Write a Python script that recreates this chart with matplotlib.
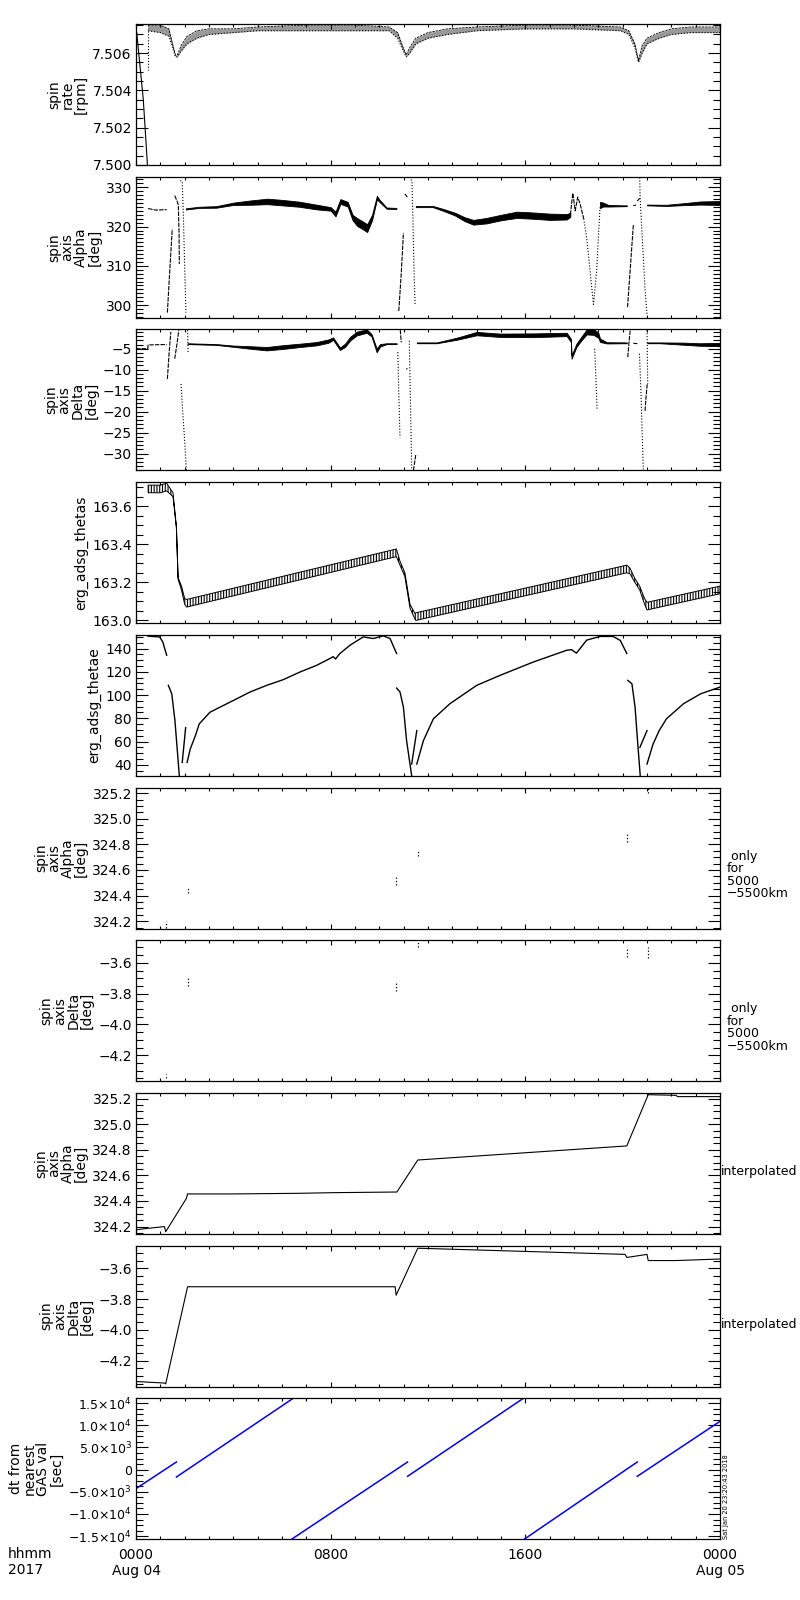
"""Spin-axis summary stack: ten strip panels sharing one 24 h time axis (2017 Aug 04)."""

import numpy as np
import matplotlib
matplotlib.use("Agg")
import matplotlib.pyplot as plt  # noqa: E402
from matplotlib.ticker import MultipleLocator, FixedLocator, FuncFormatter  # noqa: E402

NA = np.nan

# ---- panel 1: spin rate [rpm] -------------------------------------------------
RATE_DROP_T = [0.03, 0.30, 0.47]
RATE_DROP_V = [7.5071, 7.5035, 7.5000]
RATE_GAP_T = [0.49, 0.49]
RATE_GAP_V = [7.5075, 7.5051]
RATE_T = [0.5, 1.0, 1.35, 1.5, 1.62, 1.7, 1.85, 2.1, 2.5, 3.0, 4.0, 5.0, 7.0, 9.0,
          10.4, 10.75, 10.95, 11.1, 11.25, 11.5, 12.0, 12.8, 14.0, 16.0, 18.0,
          19.9, 20.25, 20.5, 20.65, 20.8, 21.0, 21.5, 22.0, 22.8, 24.0]
RATE_LO = [7.5072, 7.5071, 7.5069, 7.5063, 7.5058, 7.5058, 7.5061, 7.5065, 7.5068,
           7.5070, 7.5071, 7.5072, 7.5072, 7.5072, 7.5072, 7.5068, 7.5062, 7.5058,
           7.5060, 7.5065, 7.5068, 7.5070, 7.5072, 7.5073, 7.5073, 7.5072, 7.5070,
           7.5063, 7.5055, 7.5060, 7.5065, 7.5068, 7.5070, 7.5071, 7.5071]
RATE_HI = [7.5075, 7.5075, 7.5073, 7.5065, 7.5059, 7.5059, 7.5064, 7.5069, 7.5072,
           7.5073, 7.5073, 7.5074, 7.5075, 7.5075, 7.5074, 7.5071, 7.5064, 7.5059,
           7.5063, 7.5068, 7.5071, 7.5073, 7.5074, 7.5075, 7.5075, 7.5074, 7.5072,
           7.5065, 7.5056, 7.5064, 7.5068, 7.5071, 7.5073, 7.5074, 7.5074]

# ---- panel 2: spin axis Alpha [deg] --------------------------------------------
ALPHA_LINE_T = [0.5, 0.8, 1.26, NA, 1.29, 1.38, 1.49, NA, 1.59, 1.68, 1.74, 1.77, 1.78,
                NA, 10.8, 10.9, 10.99, NA, 11.05, 11.15, NA, 17.85, 17.95, 18.05, 18.15,
                18.25, 18.4, NA, 20.2, 20.32, 20.44, NA, 20.44, 20.55, NA, 20.6, 20.7]
ALPHA_LINE_V = [324.6, 324.2, 324.3, NA, 298.1, 308.0, 319.4, NA, 327.9, 326.6, 325.5,
                318.0, 310.5, NA, 298.5, 308.0, 318.4, NA, 328.3, 327.5, NA, 323.0,
                328.5, 324.0, 327.5, 325.8, 322.0, NA, 299.5, 310.0, 320.5, NA, 325.3,
                325.5, NA, 326.5, 327.2]
ALPHA_DOT_T = [1.82, 1.9, 1.95, 2.0, 2.05, NA, 11.3, 11.34, 11.38, 11.42, 11.47,
               NA, 18.4, 18.52, 18.66, 18.8, 18.93, 19.0, 19.07,
               NA, 20.7, 20.72, 20.78, 20.85, 20.92, 21.0]
ALPHA_DOT_V = [331.7, 331.5, 322.0, 310.0, 298.1, NA, 332.0, 331.5, 322.0, 310.0, 300.0,
               NA, 322.0, 317.2, 308.7, 300.2, 308.7, 317.2, 324.9,
               NA, 332.5, 327.0, 320.0, 312.0, 304.0, 297.5]
ALPHA_BAND_T = [2.05, 2.6, 3.3, 4.0, 4.7, 5.4, 6.0, 6.7, 7.4, 8.0, 8.2, 8.4, 8.7, 8.9,
                9.1, 9.3, 9.5, 9.7, 9.9, 10.0, 10.3, 10.7,
                NA, 11.5, 12.2, 12.65, 13.1, 13.5, 13.86, 14.4, 15.0, 15.65, 16.3, 17.0,
                17.7, 17.85,
                NA, 19.07, 19.2, 19.42, 20.17,
                NA, 21.0, 21.8, 22.5, 23.2, 24.0]
ALPHA_BAND_V = [324.5, 324.9, 325.0, 325.8, 326.1, 326.4, 326.1, 325.7, 325.0, 324.5,
                323.2, 326.4, 325.7, 322.3, 321.1, 320.4, 319.6, 322.3, 327.4, 326.6,
                324.7, 324.6,
                NA, 325.1, 325.1, 324.2, 323.2, 321.9, 321.1, 321.5, 322.3, 323.0, 322.8,
                322.5, 322.5, 323.0,
                NA, 325.5, 325.6, 325.3, 325.3,
                NA, 325.5, 325.4, 325.7, 326.0, 326.0]
ALPHA_BAND_W = [0.15, 0.15, 0.2, 0.3, 0.55, 0.7, 0.7, 0.65, 0.6, 0.45, 0.6, 0.6, 0.6,
                0.7, 1.0, 1.0, 1.0, 0.7, 0.45, 0.3, 0.15, 0.15,
                NA, 0.15, 0.15, 0.25, 0.35, 0.5, 0.6, 0.7, 0.7, 0.8, 0.8, 0.8, 0.7, 0.5,
                NA, 0.8, 0.5, 0.2, 0.1,
                NA, 0.1, 0.15, 0.25, 0.4, 0.5]

# ---- panel 3: spin axis Delta [deg] --------------------------------------------
DELTA_LINE_T = [0.0, 0.48, 0.5, 1.26, NA, 1.29, 1.36, 1.43, NA, 1.59, 1.68, 1.76,
                NA, 10.86, 10.9, NA, 11.1, 11.16, NA, 11.4, 11.5, NA, 20.21, 20.26, 20.31,
                NA, 20.44, 20.6, NA, 20.92, 20.96, 21.01]
DELTA_LINE_V = [-5.0, -5.0, -4.1, -4.0, NA, -12.2, -6.0, -1.0, NA, -7.4, -4.0, -0.6,
                NA, -0.5, -3.5, NA, -9.8, -9.8, NA, -34.0, -30.2, NA, -7.0, -3.5, -0.6,
                NA, -3.7, -3.8, NA, -19.8, -16.5, -13.4]
DELTA_DOT_T = [1.85, 1.92, 2.0, 2.07, NA, 2.12, 2.14, NA, 10.76, 10.8, 10.85, NA,
               11.23, 11.28, 11.33, NA, 18.85, 18.9, 18.95, NA, 20.69, 20.75, 20.8, 20.85,
               NA, 21.0, 21.03]
DELTA_DOT_V = [-13.4, -20.0, -27.0, -34.0, NA, -0.6, -5.8, NA, -5.8, -16.0, -26.2, NA,
               -3.1, -18.0, -33.5, NA, -5.0, -12.0, -19.6, NA, -6.2, -15.0, -25.0, -33.8,
               NA, -0.6, -13.4]
DELTA_BAND_T = [2.12, 3.3, 4.0, 4.68, 5.37, 6.05, 6.74, 7.43, 7.9, 8.1, 8.38, 8.59, 8.8,
                9.07, 9.48, 9.68, 9.89, 10.03, 10.3, 10.71,
                NA, 11.54, 12.36, 13.2, 14.0, 14.96, 16.33, 17.7, 17.87, 17.9, 18.1, 18.3,
                18.52, 18.8, 19.0, 19.07, 19.35, 20.17,
                NA, 21.01, 21.53, 22.49, 23.17, 24.0]
DELTA_BAND_V = [-3.8, -4.0, -4.4, -4.7, -5.0, -4.6, -4.2, -3.8, -3.2, -2.6, -5.0, -4.2,
                -2.6, -1.4, -0.8, -1.8, -5.4, -4.2, -3.8, -3.8,
                NA, -3.6, -3.6, -2.6, -1.4, -1.8, -1.8, -1.6, -3.0, -7.0, -4.2, -2.6,
                -1.0, -1.0, -1.8, -3.0, -3.6, -3.6,
                NA, -3.6, -3.6, -3.8, -4.0, -4.0]
DELTA_BAND_W = [0.1, 0.1, 0.15, 0.3, 0.4, 0.45, 0.4, 0.4, 0.4, 0.3, 0.3, 0.4, 0.45,
                0.45, 0.4, 0.3, 0.45, 0.3, 0.1, 0.1,
                NA, 0.1, 0.1, 0.25, 0.4, 0.4, 0.45, 0.4, 0.4, 0.4, 0.4, 0.45, 0.6, 0.7,
                0.6, 0.4, 0.15, 0.1,
                NA, 0.1, 0.1, 0.25, 0.3, 0.4]

# ---- panel 4: erg_adsg_thetas ---------------------------------------------------
THETAS_T = [0.5, 1.0, 1.26, 1.52, 1.66, 1.73, 1.87, 2.0, 2.08, 10.7, 10.85, 11.05,
            11.26, 11.47, 11.5, 20.17, 20.3, 20.5, 20.7, 20.9, 21.0, 24.0]
THETAS_V = [163.69, 163.69, 163.70, 163.66, 163.49, 163.22, 163.17, 163.10, 163.09,
            163.355, 163.30, 163.24, 163.075, 163.02, 163.02, 163.27, 163.26, 163.21,
            163.17, 163.10, 163.075, 163.16]
THETAS_W = [0.02, 0.02, 0.02, 0.01, 0.005, 0.005, 0.01, 0.015, 0.02, 0.02, 0.01, 0.01,
            0.01, 0.015, 0.02, 0.02, 0.015, 0.01, 0.01, 0.015, 0.02, 0.02]

# ---- panel 5: erg_adsg_thetae ---------------------------------------------------
THETAE_T = [0.5, 0.97, 1.1, 1.26, NA, 1.33, 1.47, 1.6, 1.71, 1.78, NA, 1.9, 2.04, NA,
            2.1, 2.23, 2.44, 2.6, 3.04, 3.59, 4.0, 4.68, 5.37, 6.05, 6.74, 7.43, 7.97,
            8.1, 8.2, 8.38, 8.8, 9.34, 9.75, 10.16, 10.44, 10.71, NA,
            10.71, 10.85, 10.99, 11.12, 11.26, 11.33, NA, 11.33, 11.54, NA,
            11.54, 11.81, 12.22, 12.9, 14.0, 14.96, 16.33, 17.7, 17.9, 18.1, 18.52,
            19.07, 19.6, 19.9, 20.17, NA, 20.21, 20.38, 20.51, 20.6, 20.68, 20.72, NA,
            20.71, 21.0, NA, 21.0, 21.25, 21.5, 21.8, 22.5, 23.2, 24.0]
THETAE_V = [150.6, 150.0, 145.7, 134.2, NA, 108.3, 101.0, 78.0, 49.2, 30.5, NA, 42.0,
            72.0, NA, 42.0, 53.6, 65.0, 75.2, 85.2, 91.0, 95.3, 102.5, 108.3, 113.2,
            119.8, 125.6, 131.4, 133.0, 131.0, 135.7, 142.9, 150.0, 148.6, 150.9, 148.6,
            135.7, NA, 106.0, 102.5, 89.5, 60.7, 40.6, 30.5, NA, 40.6, 69.4, NA,
            40.6, 60.7, 79.5, 92.5, 108.3, 116.9, 128.4, 138.5, 139.0, 136.0, 147.2,
            150.4, 150.4, 147.0, 135.7, NA, 112.6, 109.7, 89.5, 63.6, 42.0, 31.0, NA,
            55.0, 69.4, NA, 40.6, 57.8, 69.4, 79.5, 92.5, 101.0, 106.8]

# ---- panels 6/7: values only for 5000-5500 km --------------------------------
SHORT_T = [1.22, 2.12, 10.69, 11.58, 20.17, 21.05]
SHORT_A_LO = [324.15, 324.42, 324.48, 324.71, 324.82, 325.20]
SHORT_A_HI = [324.20, 324.47, 324.55, 324.75, 324.89, 325.24]
SHORT_D_LO = [-4.35, -3.75, -3.785, -3.50, -3.56, -3.57]
SHORT_D_HI = [-4.32, -3.70, -3.72, -3.465, -3.50, -3.50]

# ---- panels 8/9: interpolated --------------------------------------------------
INTERP_A_T = [0.0, 0.42, 1.17, 1.22, 2.07, 2.12, 3.98, 6.7, 8.1, 10.69, 10.72, 11.58,
              20.17, 21.05, 22.2, 22.25, 24.0]
INTERP_A_V = [324.175, 324.185, 324.20, 324.16, 324.42, 324.455, 324.455, 324.46,
              324.465, 324.47, 324.47, 324.72, 324.83, 325.23, 325.225, 325.215, 325.215]
INTERP_D_T = [0.0, 1.17, 1.22, 2.12, 10.65, 10.69, 11.58, 20.1, 20.17, 21.0, 21.05,
              22.2, 24.0]
INTERP_D_V = [-4.335, -4.345, -4.35, -3.72, -3.72, -3.775, -3.47, -3.51, -3.53, -3.51,
              -3.55, -3.55, -3.54]

# ---- panel 10: dt from nearest GAS value [sec] ----------------------------------
DT_T = [0.0, 1.66, NA, 1.66, 6.47, NA, 6.39, 11.16, NA, 11.16, 15.93, NA, 15.95, 20.6,
        NA, 20.6, 24.0]
DT_V = [-4280, 1710, NA, -1670, 16100, NA, -15700, 1710, NA, -1510, 16100, NA, -15700,
        1710, NA, -1510, 10880]

XTICKS = [0, 8, 16, 24]
XTICK_LABELS = ["0000\nAug 04", "0800", "1600", "0000\nAug 05"]

YLABELS = ["spin\nrate\n[rpm]", "spin\naxis\nAlpha\n[deg]", "spin\naxis\nDelta\n[deg]",
           "erg_adsg_thetas", "erg_adsg_thetae", "spin\naxis\nAlpha\n[deg]",
           "spin\naxis\nDelta\n[deg]", "spin\naxis\nAlpha\n[deg]",
           "spin\naxis\nDelta\n[deg]", "dt from\nnearest\nGAS val\n[sec]"]
YLIMS = [(7.5000, 7.50756), (296.8, 332.7), (-34.0, -0.4), (162.986, 163.726),
         (30.5, 151.8), (324.143, 325.244), (-4.368, -3.453), (324.143, 325.244),
         (-4.368, -3.453), (-15700, 16060)]
YSTEPS = [(0.002, 0.0005), (10, 1), (5, 1), (0.2, 0.05), (20, 5), (0.2, 0.05),
          (0.2, 0.05), (0.2, 0.05), (0.2, 0.05), (5000, 1250)]
YFMT = ["{:.3f}", "{:.0f}", "{:.0f}", "{:.1f}", "{:.0f}", "{:.1f}", "{:.1f}", "{:.1f}",
        "{:.1f}", None]


def split_nan(*cols):
    cols = [np.asarray(c, float) for c in cols]
    idx = np.flatnonzero(np.isnan(cols[0]))
    for s, e in zip(np.r_[0, idx + 1], np.r_[idx, len(cols[0])]):
        if e > s:
            yield [c[s:e] for c in cols]


def band(ax, t, v, w, **kw):
    for tt, vv, ww in split_nan(t, v, w):
        ax.fill_between(tt, vv - ww, vv + ww, **kw)


def fmt_plain(f):
    return FuncFormatter(lambda v, p: f.format(v).replace("-", "\u2212"))


def fmt_sci(v, pos):
    if abs(v) < 1:
        return "0"
    e = int(np.floor(np.log10(abs(v)) + 1e-9))
    m = v / 10 ** e
    sign = "\u2212" if m < 0 else ""
    return "%s%.1f\u00d710$^{%d}$" % (sign, abs(m), e)


plt.rcParams["font.family"] = ["DejaVu Sans"]
plt.rcParams["hatch.linewidth"] = 0.8
fig = plt.figure(figsize=(8, 16), dpi=100)
axes = []
for i in range(10):
    top = 24 + 152.7 * i
    ax = fig.add_axes([136 / 800, 1 - (top + 141) / 1600, 584 / 800, 141 / 1600])
    ax.set_xlim(0, 24)
    ax.set_ylim(*YLIMS[i])
    ax.xaxis.set_major_locator(FixedLocator(XTICKS))
    ax.xaxis.set_minor_locator(MultipleLocator(1))
    ax.yaxis.set_major_locator(MultipleLocator(YSTEPS[i][0]))
    ax.yaxis.set_minor_locator(MultipleLocator(YSTEPS[i][1]))
    ax.yaxis.set_major_formatter(fmt_plain(YFMT[i]) if YFMT[i] else FuncFormatter(fmt_sci))
    ax.tick_params(axis="y", which="both", direction="in", left=True, right=True,
                   labelsize=10 if i < 9 else 9, pad=3, width=0.8)
    ax.tick_params(axis="y", which="major", length=8.5)
    ax.tick_params(axis="y", which="minor", length=5)
    ax.tick_params(axis="x", which="both", direction="in", top=True, bottom=True,
                   labelsize=10, pad=6, width=0.8)
    ax.tick_params(axis="x", which="major", length=3.8)
    ax.tick_params(axis="x", which="minor", length=2.2)
    if i < 9:
        ax.set_xticklabels([])
    else:
        ax.set_xticklabels(XTICK_LABELS)
    for sp in ax.spines.values():
        sp.set_linewidth(0.9)
    ax.set_ylabel(YLABELS[i], fontsize=10, linespacing=0.95, labelpad=3)
    axes.append(ax)

k = dict(color="k", lw=0.8)

# 1 spin rate
ax = axes[0]
ax.plot(RATE_DROP_T, RATE_DROP_V, **k)
ax.plot(RATE_GAP_T, RATE_GAP_V, ls=":", **k)
ax.fill_between(RATE_T, RATE_LO, RATE_HI, color="0.6", lw=0)
ax.plot(RATE_T, RATE_HI, ls=(0, (3, 1)), color="k", lw=0.6)
ax.plot(RATE_T, RATE_LO, ls=":", color="k", lw=0.8)

# 2 alpha
ax = axes[1]
ax.plot(ALPHA_LINE_T, ALPHA_LINE_V, ls=(0, (4, 1)), **k)
ax.plot(ALPHA_DOT_T, ALPHA_DOT_V, ls=":", **k)
band(ax, ALPHA_BAND_T, ALPHA_BAND_V, ALPHA_BAND_W, color="k", lw=0.6)

# 3 delta
ax = axes[2]
ax.plot(DELTA_LINE_T, DELTA_LINE_V, ls=(0, (4, 1)), **k)
ax.plot(DELTA_DOT_T, DELTA_DOT_V, ls=":", **k)
band(ax, DELTA_BAND_T, DELTA_BAND_V, DELTA_BAND_W, color="k", lw=0.6)

# 4 thetas
ax = axes[3]
band(ax, THETAS_T, THETAS_V, THETAS_W, facecolor="white", edgecolor="k",
     hatch="||||||", lw=0.7)

# 5 thetae
axes[4].plot(THETAE_T, THETAE_V, color="k", lw=1.0)

# 6/7 short segments
axes[5].vlines(SHORT_T, SHORT_A_LO, SHORT_A_HI, color="k", lw=0.9, linestyles=":")
axes[6].vlines(SHORT_T, SHORT_D_LO, SHORT_D_HI, color="k", lw=0.9, linestyles=":")
for ax in axes[5:7]:
    ax.text(1.012, 0.38, " only\nfor\n5000\n\u22125500km", transform=ax.transAxes,
            ha="left", va="center", fontsize=9, linespacing=0.95)

# 8/9 interpolated
axes[7].plot(INTERP_A_T, INTERP_A_V, **k)
axes[8].plot(INTERP_D_T, INTERP_D_V, **k)
for ax in axes[7:9]:
    ax.text(1.002, 0.44, "interpolated", transform=ax.transAxes, ha="left",
            va="center", fontsize=9)

# 10 dt
axes[9].plot(DT_T, DT_V, color="blue", lw=1.1)

fig.text(8 / 800, 1 - 1547 / 1600, "hhmm\n2017", ha="left", va="top", fontsize=10)
fig.text(723 / 800, 1 - 1539 / 1600, "Sat Jan 20 23:20:43 2018", rotation=90,
         ha="left", va="bottom", fontsize=4.8)

fig.savefig("out.png", dpi=100)
